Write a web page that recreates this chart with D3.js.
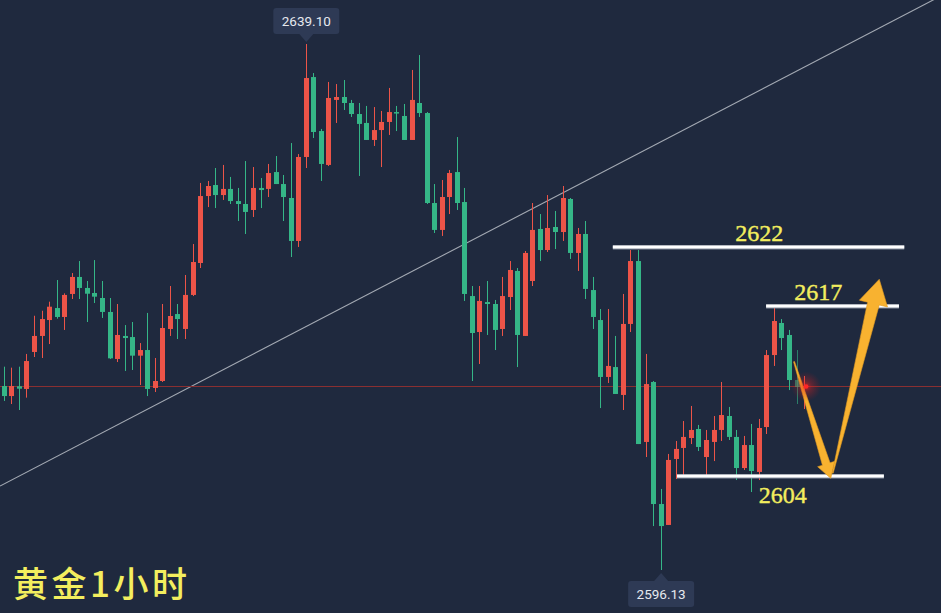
<!DOCTYPE html>
<html><head><meta charset="utf-8">
<script src="https://cdn.jsdelivr.net/npm/d3@7"></script>
<style>html,body{margin:0;padding:0;background:#1f293e;overflow:hidden}svg{display:block}</style>
</head><body>
<svg id="c" width="941" height="613"></svg>
<script>
// ---- DATA (1-hour gold candles) ----
const opens = [2611.16,2610.34,2611.14,2610.92,2613.94,2615.25,2616.55,2617.53,2616.80,2618.68,
2620.07,2619.17,2618.76,2618.35,2617.21,2613.37,2615.25,2615.16,2613.64,2614.10,
2611.00,2611.57,2615.82,2617.04,2615.82,2618.60,2621.21,2626.68,2627.58,2626.76,
2627.26,2626.27,2626.03,2625.54,2627.34,2627.26,2628.64,2627.66,2626.52,2623.01,
2629.87,2636.40,2631.99,2629.22,2634.53,2634.77,2634.28,2633.38,2632.65,2631.26,
2632.07,2632.73,2633.54,2633.22,2631.26,2634.28,2633.46,2626.11,2623.91,2626.60,
2628.64,2626.19,2618.51,2615.57,2618.02,2617.86,2615.82,2618.43,2620.56,2615.25,
2619.74,2623.99,2622.27,2624.15,2623.74,2626.44,2622.03,2623.58,2619.00,2616.55,
2611.90,2612.71,2610.43,2616.23,2621.37,2606.59,2611.49,2601.52,2599.81,2605.20,
2606.10,2606.91,2607.65,2605.36,2606.59,2607.57,2608.71,2607.00,2604.46,2606.34,
2604.14,2607.81,2613.69,2616.31,2615.33,2611.65,2611.08];
const highs = [2612.74,2612.66,2612.74,2613.78,2616.90,2617.31,2618.05,2619.82,2618.73,2620.39,
2621.37,2619.74,2621.45,2619.74,2618.35,2617.86,2616.14,2616.39,2614.67,2617.13,
2613.45,2617.86,2619.33,2617.86,2620.23,2622.76,2627.75,2627.91,2628.97,2629.22,
2628.24,2627.34,2629.54,2629.05,2628.15,2629.30,2629.95,2628.40,2631.01,2630.11,
2639.10,2636.73,2632.16,2636.00,2635.83,2636.16,2634.53,2634.28,2634.04,2633.95,
2633.63,2635.51,2634.04,2634.20,2636.98,2638.20,2633.54,2627.66,2627.99,2628.81,
2631.50,2627.34,2619.33,2619.33,2619.74,2618.19,2620.07,2621.37,2620.80,2622.19,
2626.11,2625.21,2626.76,2625.46,2627.50,2626.52,2624.07,2624.64,2620.07,2617.45,
2617.45,2615.25,2618.68,2622.27,2622.27,2613.78,2611.57,2602.75,2605.61,2606.67,
2608.30,2609.53,2607.98,2607.57,2608.71,2611.49,2609.45,2607.57,2607.08,2608.06,
2608.47,2614.10,2617.53,2616.63,2615.74,2614.10,2611.98];
const lows = [2609.94,2609.69,2609.20,2610.21,2613.53,2613.45,2614.59,2616.66,2615.74,2618.27,
2618.27,2616.39,2617.94,2616.72,2613.37,2613.12,2612.39,2612.47,2611.24,2610.34,
2610.67,2611.49,2615.25,2615.00,2615.00,2618.51,2620.80,2625.78,2625.70,2626.36,
2626.03,2624.64,2623.58,2624.97,2625.70,2626.60,2627.66,2624.64,2621.70,2622.52,
2628.97,2631.42,2627.91,2629.13,2632.65,2633.71,2633.14,2628.32,2631.26,2630.77,
2629.05,2631.67,2631.99,2631.26,2631.26,2633.14,2626.03,2623.66,2623.42,2625.21,
2625.54,2618.11,2611.57,2612.96,2615.33,2614.10,2615.25,2617.37,2612.71,2615.25,
2619.33,2621.37,2622.11,2622.35,2623.01,2621.54,2620.56,2618.27,2615.82,2609.36,
2611.41,2610.51,2609.20,2615.57,2606.42,2605.36,2599.72,2596.13,2599.81,2603.56,
2603.81,2606.42,2605.85,2603.89,2605.03,2606.67,2606.75,2603.48,2604.30,2602.50,
2603.48,2607.24,2612.80,2614.10,2610.83,2609.69,2609.28];
const closes = [2610.34,2611.16,2610.94,2613.20,2615.25,2616.63,2617.64,2616.80,2618.60,2620.07,
2619.17,2618.70,2618.46,2617.21,2613.42,2615.33,2615.08,2613.64,2614.10,2610.92,
2611.57,2615.90,2616.88,2616.63,2618.60,2621.29,2626.68,2627.50,2626.76,2627.26,
2626.27,2626.03,2625.38,2627.34,2627.17,2628.56,2627.66,2626.60,2623.01,2629.87,
2636.32,2631.91,2629.30,2634.69,2634.77,2634.28,2633.38,2632.57,2631.26,2632.07,
2632.73,2633.54,2633.46,2631.26,2634.53,2633.46,2626.11,2623.91,2626.60,2628.56,
2626.11,2618.68,2615.49,2618.11,2617.86,2615.74,2618.51,2620.64,2615.33,2622.03,
2623.91,2622.27,2624.07,2623.74,2626.52,2622.03,2623.58,2619.09,2616.80,2611.90,
2612.80,2610.51,2616.23,2621.37,2606.42,2611.32,2601.52,2599.72,2605.12,2606.02,
2607.00,2607.57,2606.18,2606.75,2607.57,2608.79,2607.00,2604.46,2606.34,2604.22,
2607.73,2613.69,2616.47,2615.08,2611.65,2611.08,2611.16];

const highLabel = "2639.10", lowLabel = "2596.13";
const currentPrice = 2611.16;
const title = "黄金1小时";

// horizontal levels (drawn price, label, start / end bar index, label bar index)
const levelLabels = ["2622", "2617", "2604"];
const levelPrices = [2622.52, 2617.70, 2603.81];
const levelStart  = [80.6, 100.9, 89.1];
const levelEnd    = [119.2, 118.5, 116.5];
const levelTextAt = [100.0, 107.8, 103.1];
const levelTextBelow = [false, false, true];

// trend line (bar index, price)
const trendIdx = [-0.57, 124.1];
const trendPrice = [2602.99, 2643.04];

// forecast arrows (bar index, price)
const arrowFromIdx = [104.6, 109.72], arrowFromPrice = [2613.15, 2604.05];
const arrowToIdx   = [109.46, 115.89], arrowToPrice  = [2603.62, 2619.88];

// ---- DRAW ----
const W = 941, H = 613;
const UP = "#ec5448", DOWN = "#35b687";
const svg = d3.select("#c");
const x = d3.scaleLinear().domain([0, 106]).range([4.3, 804.6]);
const y = d3.scaleLinear().domain([2596.13, 2639.10]).range([570, 44]);

svg.append("rect").attr("width", W).attr("height", H).attr("fill", "#1f293e");

const defs = svg.append("defs");
const g = defs.append("radialGradient").attr("id", "glow");
g.append("stop").attr("offset", "0%").attr("stop-color", "#ff2020").attr("stop-opacity", 0.75);
g.append("stop").attr("offset", "35%").attr("stop-color", "#e02020").attr("stop-opacity", 0.35);
g.append("stop").attr("offset", "100%").attr("stop-color", "#c01818").attr("stop-opacity", 0);

// trend line
svg.append("line")
  .attr("x1", x(trendIdx[0])).attr("y1", y(trendPrice[0]))
  .attr("x2", x(trendIdx[1])).attr("y2", y(trendPrice[1]))
  .attr("stroke", "#a3a9b3").attr("stroke-width", 1.1);

// current price line
const py = Math.round(y(currentPrice)) + 0.5;
svg.append("line").attr("x1", 0).attr("x2", W).attr("y1", py).attr("y2", py)
  .attr("stroke", "#8a2f31").attr("stroke-width", 1);

// candles
const bars = opens.map((o, i) => ({i, o, h: highs[i], l: lows[i], c: closes[i]}));
const cg = svg.append("g");
const cw = 5;
cg.selectAll("rect.wick").data(bars).join("rect")
  .attr("class", "wick")
  .attr("x", d => Math.round(x(d.i) - cw / 2) + 2)
  .attr("width", 1)
  .attr("y", d => y(d.h))
  .attr("height", d => Math.max(1, y(d.l) - y(d.h)))
  .attr("fill", d => d.c >= d.o ? UP : DOWN)
  .attr("opacity", (d, i) => i === 105 ? 0.6 : 1);
cg.selectAll("rect.body").data(bars).join("rect")
  .attr("class", "body")
  .attr("x", d => Math.round(x(d.i) - cw / 2))
  .attr("width", cw)
  .attr("y", d => y(Math.max(d.o, d.c)))
  .attr("height", d => Math.max(1.5, Math.abs(y(d.o) - y(d.c))))
  .attr("fill", d => d.c >= d.o ? UP : DOWN)
  .attr("opacity", (d, i) => i === 105 ? 0.6 : 1);

// levels
levelPrices.forEach((p, k) => {
  const ly = y(p);
  svg.append("rect").attr("x", x(levelStart[k])).attr("width", x(levelEnd[k]) - x(levelStart[k]))
    .attr("y", ly - 1.5).attr("height", 4).attr("fill", "#8e96a5");
  svg.append("rect").attr("x", x(levelStart[k])).attr("width", x(levelEnd[k]) - x(levelStart[k]))
    .attr("y", ly - 1.5).attr("height", 3).attr("fill", "#ffffff");
  svg.append("text").attr("x", x(levelTextAt[k])).attr("y", levelTextBelow[k] ? ly + 27 : ly - 6)
    .attr("text-anchor", "middle")
    .attr("font-family", "'Liberation Serif','DejaVu Serif',serif")
    .attr("font-size", 24).attr("fill", "#f3ee5e")
    .attr("stroke", "#f3ee5e").attr("stroke-width", 0.4).text(levelLabels[k]);
});

// arrows
function arrowPath(x0, y0, x1, y1, w0, w1, hl, hw) {
  const dx = x1 - x0, dy = y1 - y0, L = Math.hypot(dx, dy);
  const ux = dx / L, uy = dy / L, nx = -uy, ny = ux;
  const bx = x1 - ux * hl, by = y1 - uy * hl;
  const pts = [
    [x0 + nx * w0 / 2, y0 + ny * w0 / 2],
    [bx + nx * w1 / 2, by + ny * w1 / 2],
    [bx + nx * hw / 2, by + ny * hw / 2],
    [x1, y1],
    [bx - nx * hw / 2, by - ny * hw / 2],
    [bx - nx * w1 / 2, by - ny * w1 / 2],
    [x0 - nx * w0 / 2, y0 - ny * w0 / 2]
  ];
  return "M" + pts.map(p => p.join(",")).join("L") + "Z";
}
const arrowSpec = [[1, 8, 15, 18], [1, 12, 25, 29]];
arrowFromIdx.forEach((_, k) => {
  svg.append("path")
    .attr("d", arrowPath(x(arrowFromIdx[k]), y(arrowFromPrice[k]), x(arrowToIdx[k]), y(arrowToPrice[k]),
      ...arrowSpec[k]))
    .attr("fill", "#f8b230").attr("stroke", "#e09a22").attr("stroke-width", 0.6);
});

// current price dot
svg.append("circle").attr("cx", x(106) + 1.5).attr("cy", py).attr("r", 15).attr("fill", "url(#glow)");
svg.append("circle").attr("cx", x(106) + 1.5).attr("cy", py).attr("r", 2.3).attr("fill", "#ff2626");

// extreme labels
function priceTag(i, price, text, above) {
  const cx = x(i), tipY = y(price) + (above ? -2 : 3);
  const bw = 66, bh = 26;
  const by = above ? tipY - 8 - bh : tipY + 8;
  const gg = svg.append("g");
  gg.append("rect").attr("x", cx - bw / 2).attr("y", by).attr("width", bw).attr("height", bh)
    .attr("rx", 3).attr("fill", "#2e3a55");
  const t = above
    ? `M${cx - 7},${by + bh}L${cx},${tipY}L${cx + 7},${by + bh}Z`
    : `M${cx - 7},${by}L${cx},${tipY}L${cx + 7},${by}Z`;
  gg.append("path").attr("d", t).attr("fill", "#2e3a55");
  gg.append("text").attr("x", cx).attr("y", by + bh / 2 + 5).attr("text-anchor", "middle")
    .attr("font-family", "Roboto, 'Liberation Sans', sans-serif").attr("font-size", 13.5)
    .attr("fill", "#e6e9ef").text(text);
}
priceTag(highs.indexOf(d3.max(highs)), d3.max(highs), highLabel, true);
priceTag(lows.indexOf(d3.min(lows)), d3.min(lows), lowLabel, false);

// title
svg.append("text").attr("x", 13).attr("y", 597)
  .attr("font-family", "'Noto Sans CJK SC', sans-serif").attr("font-weight", 500)
  .attr("font-size", 35).attr("letter-spacing", 3.5).attr("fill", "#f3ee5e").text(title);
</script>
</body></html>
